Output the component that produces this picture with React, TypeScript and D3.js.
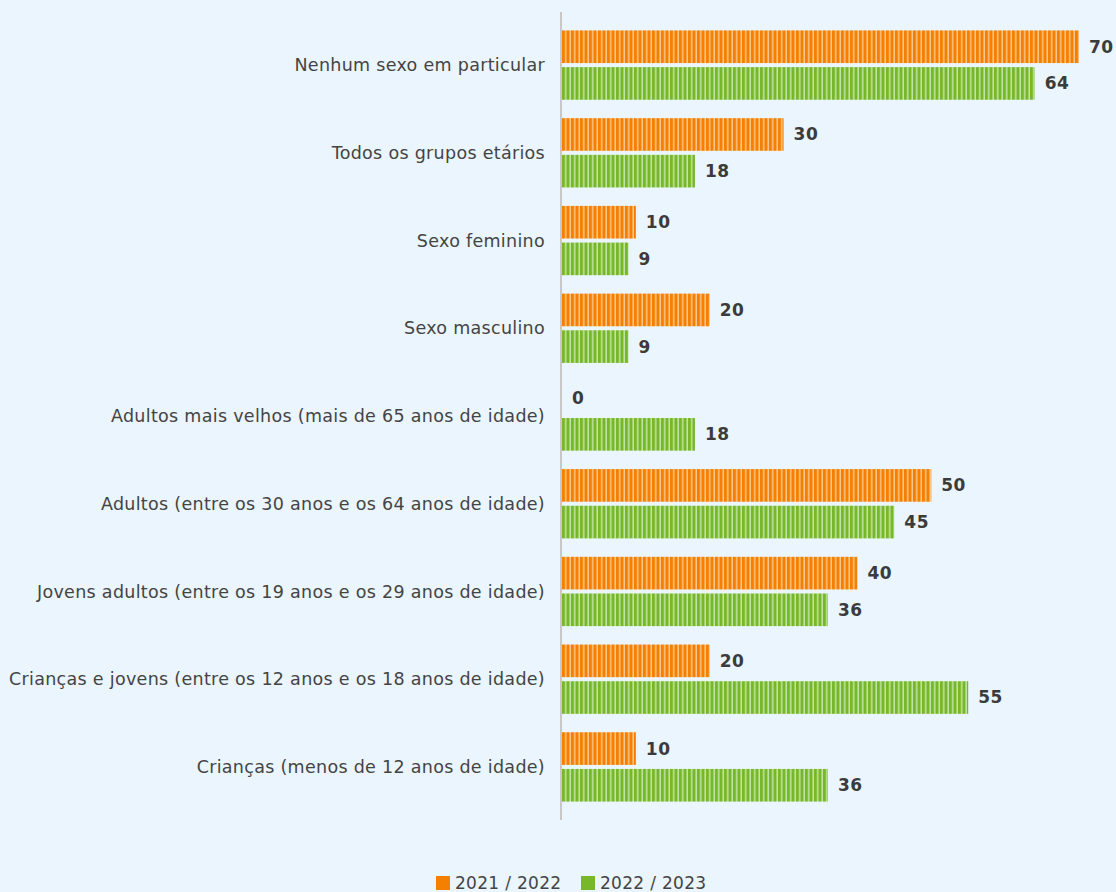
import React, { useEffect, useRef } from "react";
import * as d3 from "d3";

const categories = [
  "Nenhum sexo em particular",
  "Todos os grupos etários",
  "Sexo feminino",
  "Sexo masculino",
  "Adultos mais velhos (mais de 65 anos de idade)",
  "Adultos (entre os 30 anos e os 64 anos de idade)",
  "Jovens adultos (entre os 19 anos e os 29 anos de idade)",
  "Crianças e jovens (entre os 12 anos e os 18 anos de idade)",
  "Crianças (menos de 12 anos de idade)",
];
const seriesNames = ["2021 / 2022", "2022 / 2023"];
const values2021 = [70, 30, 10, 20, 0, 50, 40, 20, 10];
const values2022 = [64, 18, 9, 9, 18, 45, 36, 55, 36];

const W = 1116;
const H = 892;
const colors = ["#f47f00", "#77b82a"];
const lightColors = ["#fbc78a", "#c4e4a4"];
const FONT = "'DejaVu Sans', sans-serif";

export default function App() {
  const ref = useRef<SVGSVGElement>(null);
  useEffect(() => {
    document.body.style.margin = "0";
    const svg = d3.select(ref.current);
    svg.selectAll("*").remove();

    const x = d3.scaleLinear().domain([0, 70]).range([562, 1079]);
    const y = d3.scaleBand<string>().domain(categories).range([12, 820]).padding(0.21);
    const inner = d3.scaleBand<number>().domain([0, 1]).range([0, y.bandwidth()]).paddingInner(0.11);

    svg.append("rect").attr("width", W).attr("height", H).attr("fill", "#eaf5fd");

    const defs = svg.append("defs");
    colors.forEach((c, i) => {
      const p = defs.append("pattern")
        .attr("id", `stripe${i}`)
        .attr("patternUnits", "userSpaceOnUse")
        .attr("width", 4.5)
        .attr("height", 10)
        .attr("x", 562);
      p.append("rect").attr("width", 4.5).attr("height", 10).attr("fill", lightColors[i]);
      p.append("rect").attr("width", 3).attr("height", 10).attr("fill", c);
    });

    const series = [values2021, values2022];
    const g = svg.append("g");
    categories.forEach((cat, ci) => {
      series.forEach((vals, si) => {
        const v = vals[ci];
        const yy = (y(cat) as number) + (inner(si) as number);
        const h = inner.bandwidth();
        if (v > 0) {
          g.append("rect")
            .attr("x", x(0))
            .attr("y", yy)
            .attr("width", x(v) - x(0))
            .attr("height", h)
            .attr("fill", `url(#stripe${si})`);
        }
        g.append("text")
          .attr("x", x(v) + 10)
          .attr("y", yy + h / 2)
          .attr("dy", "0.35em")
          .attr("font-family", FONT)
          .attr("font-weight", "bold")
          .attr("font-size", 17)
          .attr("letter-spacing", 0.5)
          .attr("fill", "#3b3b3b")
          .text(String(v));
      });
      g.append("text")
        .attr("x", 545)
        .attr("y", (y(cat) as number) + y.bandwidth() / 2)
        .attr("dy", "0.35em")
        .attr("text-anchor", "end")
        .attr("font-family", FONT)
        .attr("font-size", 17.5)
        .attr("letter-spacing", 0.3)
        .attr("fill", "#444")
        .text(cat);
    });

    svg.append("line")
      .attr("x1", 561).attr("x2", 561)
      .attr("y1", 12).attr("y2", 820)
      .attr("stroke", "#c8c8c8").attr("stroke-width", 2);

    const legend = svg.append("g");
    const legendX = [436, 581];
    seriesNames.forEach((n, i) => {
      legend.append("rect")
        .attr("x", legendX[i]).attr("y", 876)
        .attr("width", 14).attr("height", 14)
        .attr("fill", colors[i]);
      legend.append("text")
        .attr("x", legendX[i] + 19).attr("y", 883)
        .attr("dy", "0.35em")
        .attr("font-family", FONT)
        .attr("font-size", 17)
        .attr("letter-spacing", 0.3)
        .attr("fill", "#444")
        .text(n);
    });
  }, []);
  return (
    <svg
      ref={ref}
      width={W}
      height={H}
      style={{ position: "absolute", left: 0, top: 0, display: "block" }}
    />
  );
}
